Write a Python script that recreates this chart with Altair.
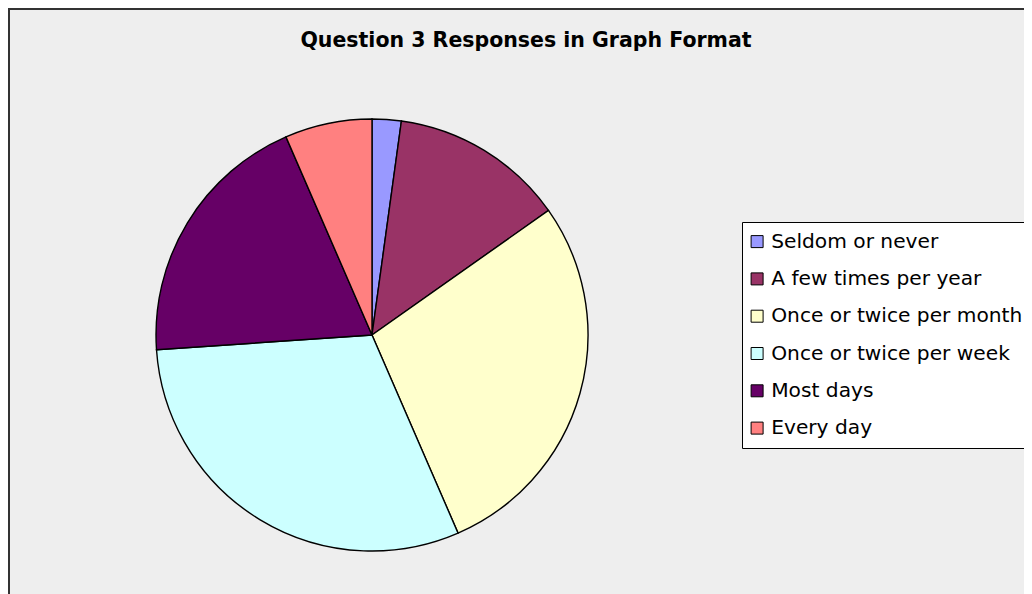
import altair as alt
import pandas as pd

categories = [
    "Seldom or never",
    "A few times per year",
    "Once or twice per month",
    "Once or twice per week",
    "Most days",
    "Every day",
]
counts = [1, 6, 13, 14, 9, 3]
colors = ["#9999FF", "#993366", "#FFFFCC", "#CCFFFF", "#660066", "#FF8080"]
title_text = "Question 3 Responses in Graph Format"

df = pd.DataFrame({"category": categories, "count": counts, "idx": list(range(len(categories)))})

pie = alt.Chart(df).mark_arc(stroke="black", strokeWidth=1.4).encode(
    theta=alt.Theta("count:Q", stack=True),
    color=alt.Color(
        "category:N",
        scale=alt.Scale(domain=categories, range=colors),
        sort=categories,
        legend=alt.Legend(
            title=None,
            orient="none",
            legendX=734,
            legendY=214,
            strokeColor="black",
            fillColor="white",
            padding=9.5,
            labelFont="DejaVu Sans",
            labelFontSize=20.2,
            labelColor="black",
            labelLimit=400,
            labelOffset=4,
            symbolOffset=-4.5,
            symbolType="square",
            symbolSize=144,
            symbolStrokeColor="black",
            symbolStrokeWidth=1,
            symbolOpacity=1,
            rowPadding=16.3,
        ),
    ),
    order=alt.Order("idx:Q"),
    x=alt.value(364),
    y=alt.value(327),
    radius=alt.value(216),
)

title = alt.Chart(pd.DataFrame({"t": [title_text]})).mark_text(
    font="DejaVu Sans", fontWeight="bold", fontSize=20.5, color="black", baseline="alphabetic", align="center"
).encode(text="t:N", x=alt.value(518), y=alt.value(39))

border_left = alt.Chart(pd.DataFrame({"a": [0]})).mark_rule(color="#333333", strokeWidth=2).encode(
    x=alt.value(1), y=alt.value(0), y2=alt.value(600)
)
border_top = alt.Chart(pd.DataFrame({"a": [0]})).mark_rule(color="#333333", strokeWidth=2).encode(
    y=alt.value(1), x=alt.value(0), x2=alt.value(1016)
)

chart = alt.layer(pie, title, border_left, border_top).properties(
    width=1016,
    height=600,
    autosize=alt.AutoSizeParams(type="none"),
    padding=0,
    background="#EEEEEE",
).configure_view(fill="#EEEEEE", stroke=None, strokeWidth=0)

chart.save("out.html", embed_options={"renderer": "svg", "actions": False})
